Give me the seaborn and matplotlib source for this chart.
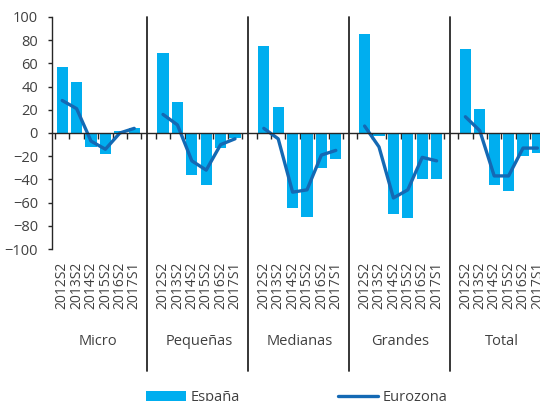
import numpy as np
import pandas as pd
import matplotlib
matplotlib.use("Agg")
import matplotlib.pyplot as plt
import matplotlib.transforms as mtransforms
from matplotlib.patches import Patch
from matplotlib.lines import Line2D
import seaborn as sns

# Company size groups and survey periods
groups = ["Micro", "Pequeñas", "Medianas", "Grandes", "Total"]
periods = ["2012S2", "2013S2", "2014S2", "2015S2", "2016S2", "2017S1"]

# España (bars), by group
espana_micro = [57, 44, -12, -18, 2, 4]
espana_pequenas = [69, 27, -36, -45, -13, -4]
espana_medianas = [75, 22, -65, -72, -30, -22]
espana_grandes = [85, -3, -70, -73, -40, -40]
espana_total = [72, 21, -45, -50, -20, -17]

# Eurozona (line), by group
euro_micro = [28, 21, -7, -14, 0, 4]
euro_pequenas = [16, 7, -24, -32, -10, -5]
euro_medianas = [4, -5, -51, -49, -19, -15]
euro_grandes = [6, -12, -56, -49, -21, -24]
euro_total = [14, 2, -37, -37, -13, -13]

espana = [espana_micro, espana_pequenas, espana_medianas, espana_grandes, espana_total]
eurozona = [euro_micro, euro_pequenas, euro_medianas, euro_grandes, euro_total]

BAR_COLOR = "#00AEEF"
LINE_COLOR = "#1469B4"
TEXT_COLOR = "#404040"
AXIS_COLOR = "#262626"

# Long table; one empty slot is left between consecutive groups
step = len(periods) + 1
rows = []
slot_order = []
for gi, g in enumerate(groups):
    for pi, p in enumerate(periods):
        key = f"{g}|{p}"
        slot_order.append(key)
        rows.append({"grupo": g, "periodo": p, "slot": key, "pos": gi * step + pi,
                     "España": espana[gi][pi], "Eurozona": eurozona[gi][pi]})
    if gi < len(groups) - 1:
        slot_order.append(f"gap{gi}")
df = pd.DataFrame(rows)
n_slots = len(slot_order)

sns.set_theme(style="white")
plt.rcParams["font.family"] = ["Open Sans", "DejaVu Sans"]

fig = plt.figure(figsize=(5.4, 4.01), dpi=100)
ax = fig.add_axes([52 / 540, (401 - 249) / 401, 492.6 / 540, 232 / 401])

sns.barplot(data=df, x="slot", y="España", order=slot_order, width=0.78,
            color=BAR_COLOR, saturation=1, errorbar=None,
            edgecolor="none", linewidth=0, ax=ax)
sns.lineplot(data=df, x="pos", y="Eurozona", units="grupo", estimator=None,
             color=LINE_COLOR, lw=2.4, legend=False, ax=ax)

ax.set_xlim(-0.71, n_slots - 0.5)
ax.set_ylim(-100, 100)
ax.set_yticks(np.arange(-100, 101, 20))
ax.set_xlabel("")
ax.set_ylabel("")

for side in ("top", "right"):
    ax.spines[side].set_visible(False)
ax.spines["bottom"].set_position(("data", 0))
for side in ("left", "bottom"):
    ax.spines[side].set_color(AXIS_COLOR)
    ax.spines[side].set_linewidth(1.0)

ax.set_xticks(np.arange(-0.5, n_slots, 1))
ax.set_xticklabels([])
ax.tick_params(axis="x", bottom=True, direction="out", length=4, width=1,
               color=AXIS_COLOR)
ax.tick_params(axis="y", left=True, direction="out", length=3, width=1,
               color=AXIS_COLOR, labelsize=10.5, labelcolor=TEXT_COLOR, pad=7)

# Period labels below the plot, rotated
trans = mtransforms.blended_transform_factory(ax.transData, ax.transAxes)
for _, r in df.iterrows():
    ax.text(r["pos"], -0.055, r["periodo"], transform=trans, rotation=90,
            ha="center", va="top", fontsize=10, color=TEXT_COLOR, clip_on=False)

# Group names and separators
for gi, g in enumerate(groups):
    ax.text(gi * step + (len(periods) - 1) / 2, -0.397, g, transform=trans,
            ha="center", va="center", fontsize=10.5, color=TEXT_COLOR)
    if gi > 0:
        ax.axvline(gi * step - 1.1, ymin=-0.526, ymax=1, clip_on=False,
                   color=AXIS_COLOR, lw=1.3)

handles = [Patch(facecolor=BAR_COLOR, edgecolor="none"),
           Line2D([0], [0], color=LINE_COLOR, lw=2.4)]
fig.legend(handles, ["España", "Eurozona"], loc="center",
           bbox_to_anchor=(0.55, 0.009), ncol=2, frameon=False,
           handlelength=2.7, handleheight=0.7, handletextpad=0.35,
           columnspacing=6.75, fontsize=10.5, labelcolor=TEXT_COLOR)

fig.savefig("out.png", dpi=100)
